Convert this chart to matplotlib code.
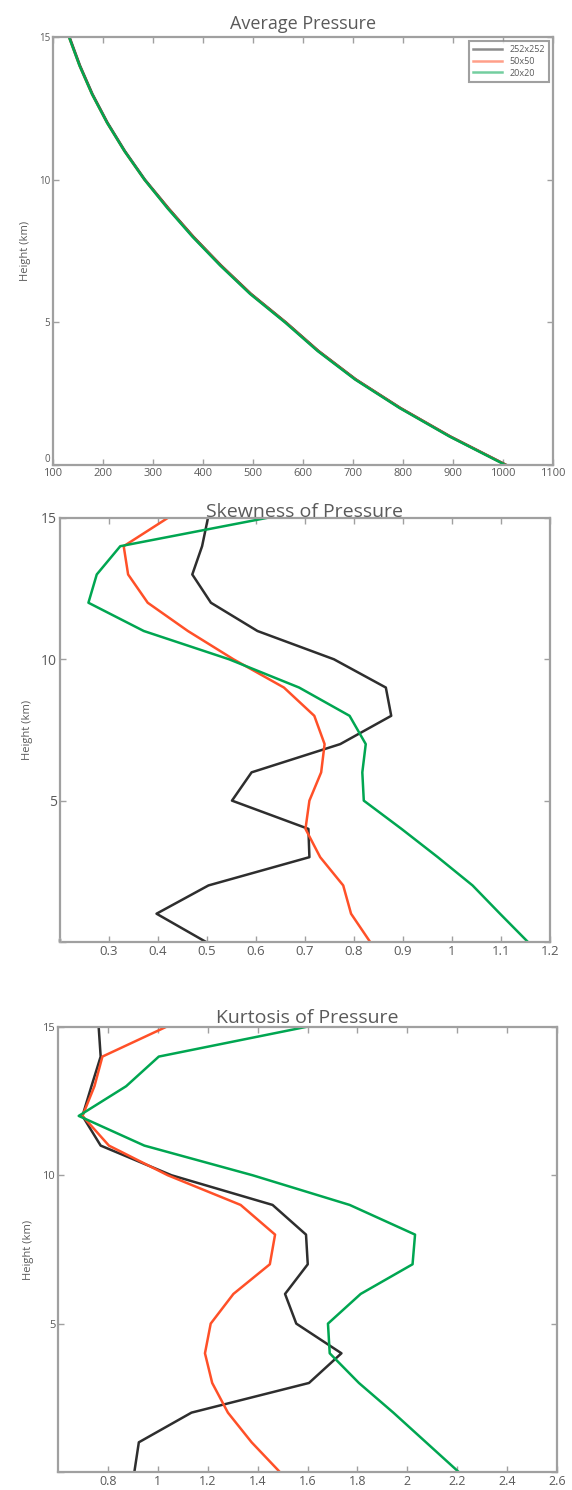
import matplotlib
matplotlib.use("Agg")
import matplotlib.pyplot as plt
import numpy as np

plt.rcParams['font.family'] = ['Open Sans', 'DejaVu Sans']

## Profile data (height in km, one value per level)
height = [0, 1, 2, 3, 4, 5, 6, 7, 8, 9, 10, 11, 12, 13, 14, 15]
labels = ['252x252', '50x50', '20x20']
colors = ['#2e2e2e', '#ff5028', '#00a651']

# mean pressure (hPa)
p_252 = [1007, 895, 795, 706, 631, 566, 496, 436, 381, 331, 284, 244, 209, 179, 154, 133]
p_50 = [1006, 894, 794, 705, 630, 565, 495, 435, 380, 330, 283, 243, 208, 178, 153, 132]
p_20 = [1005, 893, 793, 704, 629, 564, 494, 434, 379, 329, 283, 243, 208, 178, 153, 132]

# skewness of pressure
skew_252 = [0.498, 0.397, 0.503, 0.709, 0.707, 0.551, 0.591, 0.772, 0.876, 0.865,
            0.759, 0.603, 0.508, 0.470, 0.490, 0.502]
skew_50 = [0.833, 0.794, 0.778, 0.731, 0.701, 0.709, 0.733, 0.740, 0.719, 0.657,
           0.554, 0.461, 0.379, 0.339, 0.330, 0.420]
skew_20 = [1.155, 1.098, 1.042, 0.971, 0.897, 0.820, 0.817, 0.824, 0.791, 0.688,
           0.545, 0.371, 0.258, 0.275, 0.323, 0.622]

# kurtosis of pressure
kurt_252 = [0.906, 0.924, 1.135, 1.606, 1.736, 1.555, 1.510, 1.601, 1.594, 1.460,
            1.055, 0.771, 0.698, 0.734, 0.771, 0.763]
kurt_50 = [1.489, 1.376, 1.281, 1.218, 1.189, 1.212, 1.303, 1.449, 1.470, 1.332,
           1.040, 0.804, 0.698, 0.746, 0.778, 1.033]
kurt_20 = [2.206, 2.075, 1.944, 1.806, 1.689, 1.682, 1.813, 2.021, 2.031, 1.769,
           1.380, 0.946, 0.683, 0.873, 1.004, 1.594]

txt = '#5a5a5a'
edge = '#a0a0a0'

fig = plt.figure(figsize=(5.72, 14.9), dpi=100)

def style(ax, xlim, xticks, xlabels, yfs, xfs):
    ax.set_xlim(xlim)
    ax.set_ylim(0, 15)
    ax.set_xticks(xticks)
    ax.set_xticklabels(xlabels)
    ax.set_yticks([0, 5, 10, 15])
    ax.tick_params(direction='in', top=True, right=True, length=4, width=1,
                   color=edge, labelcolor=txt, pad=2)
    ax.tick_params(axis='y', labelsize=yfs)
    ax.tick_params(axis='x', labelsize=xfs)
    for s in ax.spines.values():
        s.set_color(edge)
        s.set_linewidth(1.6)
    ax.set_ylabel('Height (km)', color=txt, fontsize=8, labelpad=6)

# Average pressure
ax1 = fig.add_axes([0.0927, 0.6879, 0.874, 0.2872])
for vals, c, lab in zip([p_252, p_50, p_20], colors, labels):
    ax1.plot(vals, height, color=c, lw=1.8, label=lab)
xt = list(range(100, 1101, 100))
style(ax1, (100, 1100), xt, [str(v) for v in xt], 7, 8)
# lift the "0" a little so it clears the "100" under it
ax1.get_yticklabels()[0].set_verticalalignment('bottom')
ax1.set_title('Average Pressure', color=txt, fontsize=13, pad=6)
leg = ax1.legend(loc='upper right', fontsize=6.5, frameon=True, fancybox=False,
                 handlelength=3.2, borderpad=0.5, labelspacing=0.3,
                 borderaxespad=0.4)
leg.get_frame().set_edgecolor('#888888')
leg.get_frame().set_linewidth(1.5)
for t in leg.get_texts():
    t.set_color(txt)
for h in leg.get_lines():
    h.set_alpha(0.55)

# Skewness
ax2 = fig.add_axes([0.1049, 0.3678, 0.8566, 0.2846])
for vals, c in zip([skew_252, skew_50, skew_20], colors):
    ax2.plot(vals, height, color=c, lw=1.8)
xt2 = [0.3, 0.4, 0.5, 0.6, 0.7, 0.8, 0.9, 1.0, 1.1, 1.2]
style(ax2, (0.2, 1.2), xt2, ['0.3', '0.4', '0.5', '0.6', '0.7', '0.8', '0.9', '1', '1.1', '1.2'], 10, 9.5)
ax2.set_yticklabels(['', '5', '10', '15'])
ax2.text(0.2, 0, '0', color='#b0b0b0', fontsize=5, ha='center', va='center')
ax2.set_title('Skewness of Pressure', color=txt, fontsize=14, pad=1)

# Kurtosis
ax3 = fig.add_axes([0.1014, 0.0121, 0.8724, 0.2987])
for vals, c in zip([kurt_252, kurt_50, kurt_20], colors):
    ax3.plot(vals, height, color=c, lw=1.8)
xt3 = [0.8, 1.0, 1.2, 1.4, 1.6, 1.8, 2.0, 2.2, 2.4, 2.6]
style(ax3, (0.6, 2.6), xt3, ['0.8', '1', '1.2', '1.4', '1.6', '1.8', '2', '2.2', '2.4', '2.6'], 8, 9)
ax3.set_yticklabels(['', '5', '10', '15'])
ax3.set_title('Kurtosis of Pressure', color=txt, fontsize=14, pad=3)

fig.savefig('out.png', dpi=100, facecolor='white')
